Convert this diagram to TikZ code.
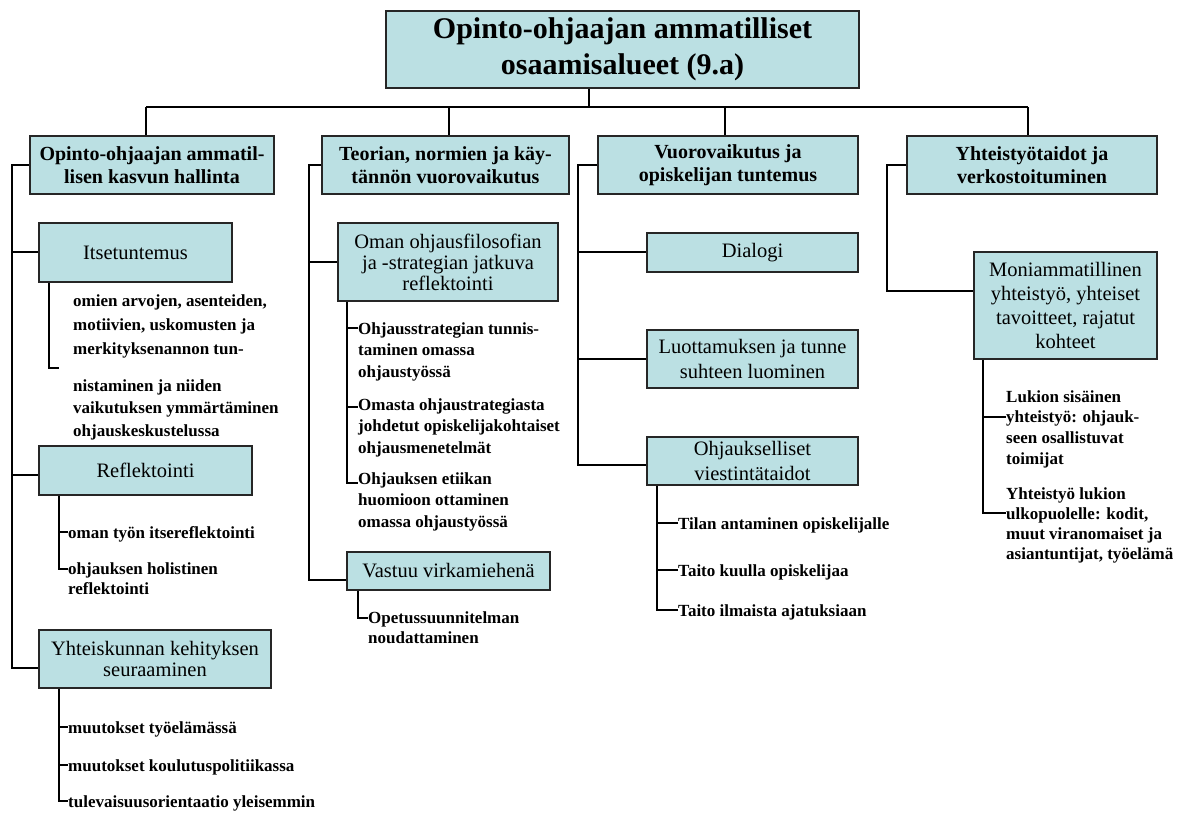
\documentclass[tikz,border=0pt]{standalone}
\usepackage{fontspec}
\setmainfont{Liberation Serif}
\usetikzlibrary{shadows}
\definecolor{boxfill}{RGB}{187,224,227}
\begin{document}
\begin{tikzpicture}[x=1pt,y=-1pt,
  box/.style={draw=black!85, line width=1.2pt, fill=boxfill, inner sep=0pt, align=center,
    drop shadow={shadow xshift=1.2pt, shadow yshift=-1.2pt, opacity=0.45, fill=black}},
  rbox/.style={box, font=\fontsize{20.5}{23}\selectfont},
  hbox/.style={box, font=\bfseries\fontsize{20}{23}\selectfont, minimum height=58},
  leaf/.style={anchor=north west, align=left, inner sep=0pt, font=\bfseries\fontsize{17}{21.5}\selectfont},
  conn/.style={draw=black, line width=1.1pt}]
\useasboundingbox (0,0) rectangle (1188,812);

% top
\node[box, font=\bfseries\fontsize{30}{36}\selectfont, minimum width=473, minimum height=77] (T) at (622.5,49.5) {Opinto-ohjaajan ammatilliset\\osaamisalueet (9.a)};

% level 1
\node[hbox, minimum width=244] (B1) at (152,165) {Opinto-ohjaajan ammatil-\\lisen kasvun hallinta};
\node[hbox, minimum width=247] (B2) at (445.5,165) {Teorian, normien ja käy-\\tännön vuorovaikutus};
\node[hbox, minimum width=260] (B3) at (728,165) {Vuorovaikutus ja\\opiskelijan tuntemus};
\node[hbox, minimum width=250] (B4) at (1032,165) {Yhteistyötaidot ja\\verkostoituminen};

% level 2
\node[rbox, minimum width=193, minimum height=59] (I) at (135.5,252.5) {Itsetuntemus};
\node[rbox, minimum width=213, minimum height=49] (R) at (145.5,470.5) {Reflektointi};
\node[rbox, font=\fontsize{20.5}{21}\selectfont, minimum width=232, minimum height=58] (Y) at (155,659) {Yhteiskunnan kehityksen\\seuraaminen};
\node[rbox, font=\fontsize{20.5}{21}\selectfont, minimum width=220, minimum height=78] (O) at (448,262) {Oman ohjausfilosofian\\ja -strategian jatkuva\\reflektointi};
\node[rbox, minimum width=203, minimum height=38] (V) at (448.5,571) {Vastuu virkamiehenä};
\node[rbox, minimum width=211, minimum height=39] (D) at (752.5,252.5) {Dialogi};
\node[rbox, font=\fontsize{20.5}{25}\selectfont, minimum width=211, minimum height=58] (L) at (752.5,359) {Luottamuksen ja tunne\\suhteen luominen};
\node[rbox, font=\fontsize{20.5}{25}\selectfont, minimum width=211, minimum height=48] (Oh) at (752.5,461) {Ohjaukselliset\\viestintätaidot};
\node[rbox, font=\fontsize{20.5}{24.3}\selectfont, minimum width=183, minimum height=107] (M) at (1065.5,305.5) {Moniammatillinen\\yhteistyö, yhteiset\\tavoitteet, rajatut\\kohteet};

% leaves
\node[leaf, font=\bfseries\fontsize{17}{24}\selectfont] (it1) at (73,294) {omien arvojen, asenteiden,\\motiivien, uskomusten ja\\merkityksenannon tun-};
\node[leaf, font=\bfseries\fontsize{17}{22.5}\selectfont] (it2) at (73,379) {nistaminen ja niiden\\vaikutuksen ymmärtäminen\\ohjauskeskustelussa};
\node[leaf] (r1) at (68,526) {oman työn itsereflektointi};
\node[leaf, font=\bfseries\fontsize{17}{20}\selectfont] (r2) at (68,562) {ohjauksen holistinen\\reflektointi};
\node[leaf] (y1) at (68,721) {muutokset työelämässä};
\node[leaf] (y2) at (68,759) {muutokset koulutuspolitiikassa};
\node[leaf] (y3) at (68,795) {tulevaisuusorientaatio yleisemmin};
\node[leaf] (o1) at (358,322) {Ohjausstrategian tunnis-\\taminen omassa\\ohjaustyössä};
\node[leaf] (o2) at (358,398) {Omasta ohjaustrategiasta\\johdetut opiskelijakohtaiset\\ohjausmenetelmät};
\node[leaf] (o3) at (358,472) {Ohjauksen etiikan\\huomioon ottaminen\\omassa ohjaustyössä};
\node[leaf, font=\bfseries\fontsize{17}{20}\selectfont] (v1) at (368,611) {Opetussuunnitelman\\noudattaminen};
\node[leaf] (d1) at (678,517) {Tilan antaminen opiskelijalle};
\node[leaf] (d2) at (678,564) {Taito kuulla opiskelijaa};
\node[leaf] (d3) at (678,604) {Taito ilmaista ajatuksiaan};
\node[leaf, font=\bfseries\fontsize{17}{20.7}\selectfont] (m1) at (1006,390) {Lukion sisäinen\\yhteistyö: ohjauk-\\seen osallistuvat\\toimijat};
\node[leaf, font=\bfseries\fontsize{17}{20}\selectfont] (m2) at (1006,487) {Yhteistyö lukion\\ulkopuolelle: kodit,\\muut viranomaiset ja\\asiantuntijat, työelämä};

% top connectors
\coordinate (tj) at (589,107);
\coordinate (bl) at (146,107);
\coordinate (bv2) at (449,107);
\coordinate (bv3) at (725,107);
\coordinate (br) at (1028,107);
\draw[conn] (tj |- T.south) -- (tj);
\draw[conn] (bl) -- (br);
\draw[conn] (bl) -- (bl |- B1.north);
\draw[conn] (bv2) -- (bv2 |- B2.north);
\draw[conn] (bv3) -- (bv3 |- B3.north);
\draw[conn] (br) -- (br |- B4.north);

% B1 branch
\coordinate (b1h) at (12,165);
\coordinate (b1e) at (12,668);
\coordinate (cI) at (12,252);
\coordinate (cR) at (12,475);
\draw[conn] (B1.west) -- (b1h) -- (b1e) -- (b1e -| Y.west);
\draw[conn] (cI) -- (cI -| I.west);
\draw[conn] (cR) -- (cR -| R.west);
\coordinate (sI) at (49,368);
\coordinate (eI) at (59,368);
\draw[conn] (sI |- I.south) -- (sI) -- (eI);
\coordinate (sR) at (59,569);
\coordinate (cR1) at (59,532);
\draw[conn] (sR |- R.south) -- (sR) -- (sR -| r2.west);
\draw[conn] (cR1) -- (cR1 -| r1.west);
\coordinate (sY) at (59,801);
\coordinate (cY1) at (59,727);
\coordinate (cY2) at (59,765);
\draw[conn] (sY |- Y.south) -- (sY) -- (sY -| y3.west);
\draw[conn] (cY1) -- (cY1 -| y1.west);
\draw[conn] (cY2) -- (cY2 -| y2.west);

% B2 branch
\coordinate (b2h) at (309,165);
\coordinate (b2e) at (309,580);
\coordinate (cO) at (309,262);
\draw[conn] (B2.west) -- (b2h) -- (b2e) -- (b2e -| V.west);
\draw[conn] (cO) -- (cO -| O.west);
\coordinate (sO) at (347,483);
\coordinate (cO1) at (347,328);
\coordinate (cO2) at (347,407);
\draw[conn] (sO |- O.south) -- (sO) -- (sO -| o3.west);
\draw[conn] (cO1) -- (cO1 -| o1.west);
\draw[conn] (cO2) -- (cO2 -| o2.west);
\coordinate (sV) at (358,618);
\draw[conn] (sV |- V.south) -- (sV) -- (sV -| v1.west);

% B3 branch
\coordinate (b3h) at (578,165);
\coordinate (b3e) at (578,465);
\coordinate (cD) at (578,252);
\coordinate (cL) at (578,359);
\draw[conn] (B3.west) -- (b3h) -- (b3e) -- (b3e -| Oh.west);
\draw[conn] (cD) -- (cD -| D.west);
\draw[conn] (cL) -- (cL -| L.west);
\coordinate (sD) at (657,610);
\coordinate (cD1) at (657,523);
\coordinate (cD2) at (657,570);
\draw[conn] (sD |- Oh.south) -- (sD) -- (sD -| d3.west);
\draw[conn] (cD1) -- (cD1 -| d1.west);
\draw[conn] (cD2) -- (cD2 -| d2.west);

% B4 branch
\coordinate (b4h) at (887,165);
\coordinate (b4e) at (887,291);
\draw[conn] (B4.west) -- (b4h) -- (b4e) -- (b4e -| M.west);
\coordinate (sM) at (983,513);
\coordinate (cM1) at (983,417);
\draw[conn] (sM |- M.south) -- (sM) -- (sM -| m2.west);
\draw[conn] (cM1) -- (cM1 -| m1.west);
\end{tikzpicture}
\end{document}
